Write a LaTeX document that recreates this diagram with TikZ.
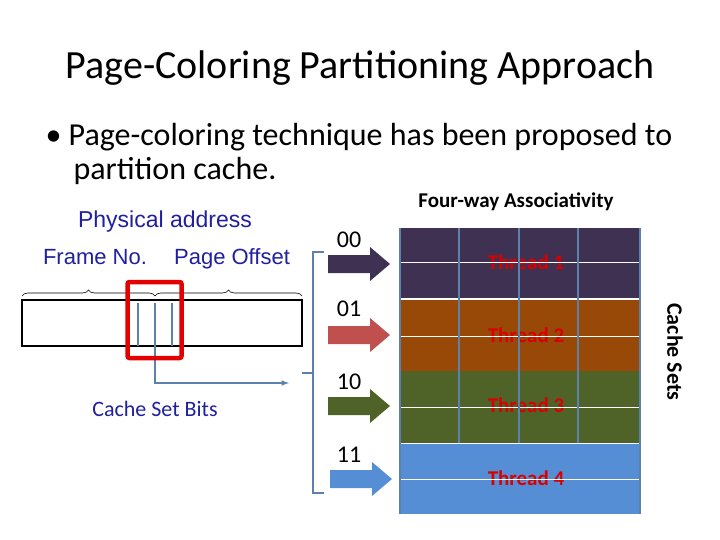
\documentclass[tikz,border=0pt]{standalone}
\usepackage{fontspec}
\setmainfont{Carlito}
\newfontfamily\arial{Liberation Sans}
\usetikzlibrary{decorations.pathreplacing}
\definecolor{navy}{HTML}{1F1FA0}
\definecolor{cpurple}{HTML}{3F3151}
\definecolor{corange}{HTML}{984807}
\definecolor{cgreen}{HTML}{4F6228}
\definecolor{cblue}{HTML}{558ED5}
\definecolor{cred}{HTML}{C0504D}
\definecolor{lblue}{HTML}{5B82AE}
\newcommand\blockarrow[4]{\fill[#1] (#2-31,#3-9) -- (#2+11,#3-9) -- (#2+11,#3-17) -- (#2+31,#3) -- (#2+11,#3+17) -- (#2+11,#3+9) -- (#2-31,#3+9) -- cycle;
 \coordinate (#4) at (#2,#3);}
\begin{document}
\begin{tikzpicture}[x=1pt,y=-1pt,
  thr/.style={text=red!85!black,font=\fontsize{21}{21}\selectfont\bfseries},
  bits/.style={font=\fontsize{24}{24}\selectfont}]
\useasboundingbox (0,0) rectangle (720,540);
\node (title) at (360,68) {\fontsize{40}{40}\selectfont Page-Coloring Partitioning Approach};
\node[anchor=base west] (b1) at (42,146) {\fontsize{32}{32}\selectfont • Page-coloring technique has been proposed to};
\node[anchor=base west] (b2) at (70,180) {\fontsize{32}{32}\selectfont partition cache.};
\node (fw) at (516,202) {\fontsize{21}{21}\selectfont\bfseries Four-way Associativity};
\node[rotate=-90] (cs) at (675,352) {\fontsize{22}{22}\selectfont\bfseries Cache Sets};
% cache grid
\fill[cpurple] (400,228) rectangle (640,299);
\fill[corange] (400,299) rectangle (640,371);
\fill[cgreen] (400,371) rectangle (640,443);
\fill[cblue] (400,443) rectangle (640,514);
\node[thr] (t1) at (526,262) {Thread 1};
\node[thr] (t2) at (526,335) {Thread 2};
\node[thr] (t3) at (526,405) {Thread 3};
\node[thr] (t4) at (526,478) {Thread 4};
\foreach \y in {262,336,407,443,479} \draw[white,line width=1pt] (400,\y) -- (640,\y);
\draw[white,line width=2.5pt] (400,299) -- (640,299);
\foreach \x in {459,519,578} \draw[lblue,line width=1.5pt] (\x,228) -- (\x,443);
\draw[lblue,line width=1.5pt] (400,228) -- (400,514) (640,228) -- (640,514);
% arrows
\blockarrow{cpurple}{359}{264}{a1}
\blockarrow{cred}{359}{335}{a2}
\blockarrow{cgreen}{359}{406}{a3}
\blockarrow{cblue}{361}{479}{a4}
\node[bits] (l1) at (349,240) {00};
\node[bits] (l2) at (349,309) {01};
\node[bits] (l3) at (349,382) {10};
\node[bits] (l4) at (349,455) {11};
% bracket
\coordinate (bt) at (324,252); \coordinate (bb) at (324,493); \coordinate (bm) at (302,373);
\draw[lblue,line width=1.5pt] (bt) -- (313,252) -- (313,493) -- (bb) (313,373) -- (bm);
% address
\node[font=\arial\fontsize{23}{23}\selectfont,text=navy] (pa) at (165,222) {Physical address};
\node[font=\arial\fontsize{22}{22}\selectfont,text=navy] (fn) at (95,257) {Frame No.};
\node[font=\arial\fontsize{22}{22}\selectfont,text=navy] (po) at (232,259) {Page Offset};
\draw[decorate,decoration={brace,amplitude=6pt},line width=0.6pt] (22,296) -- (155,296);
\draw[decorate,decoration={brace,amplitude=6pt},line width=0.6pt] (155,296) -- (302,296);
\node[draw,line width=2.5pt,minimum width=280pt,minimum height=46pt,inner sep=0pt] (box) at (162,323) {};
\foreach \x in {138,172} \draw[lblue,line width=1.5pt] (\x,303) -- (\x,346);
\coordinate (ct) at (155,303);
\coordinate (ce) at (289,383);
\draw[lblue,line width=1.5pt,-{latex}] (ct) -- (155,383) -- (ce);
\node[draw=red!90!black,line width=4.5pt,rounded corners=2pt,minimum width=54pt,minimum height=76pt] (rb) at (154.5,320) {};
\node[text=navy,font=\fontsize{22}{22}\selectfont] (csb) at (155,409) {Cache Set Bits};
\end{tikzpicture}
\end{document}
